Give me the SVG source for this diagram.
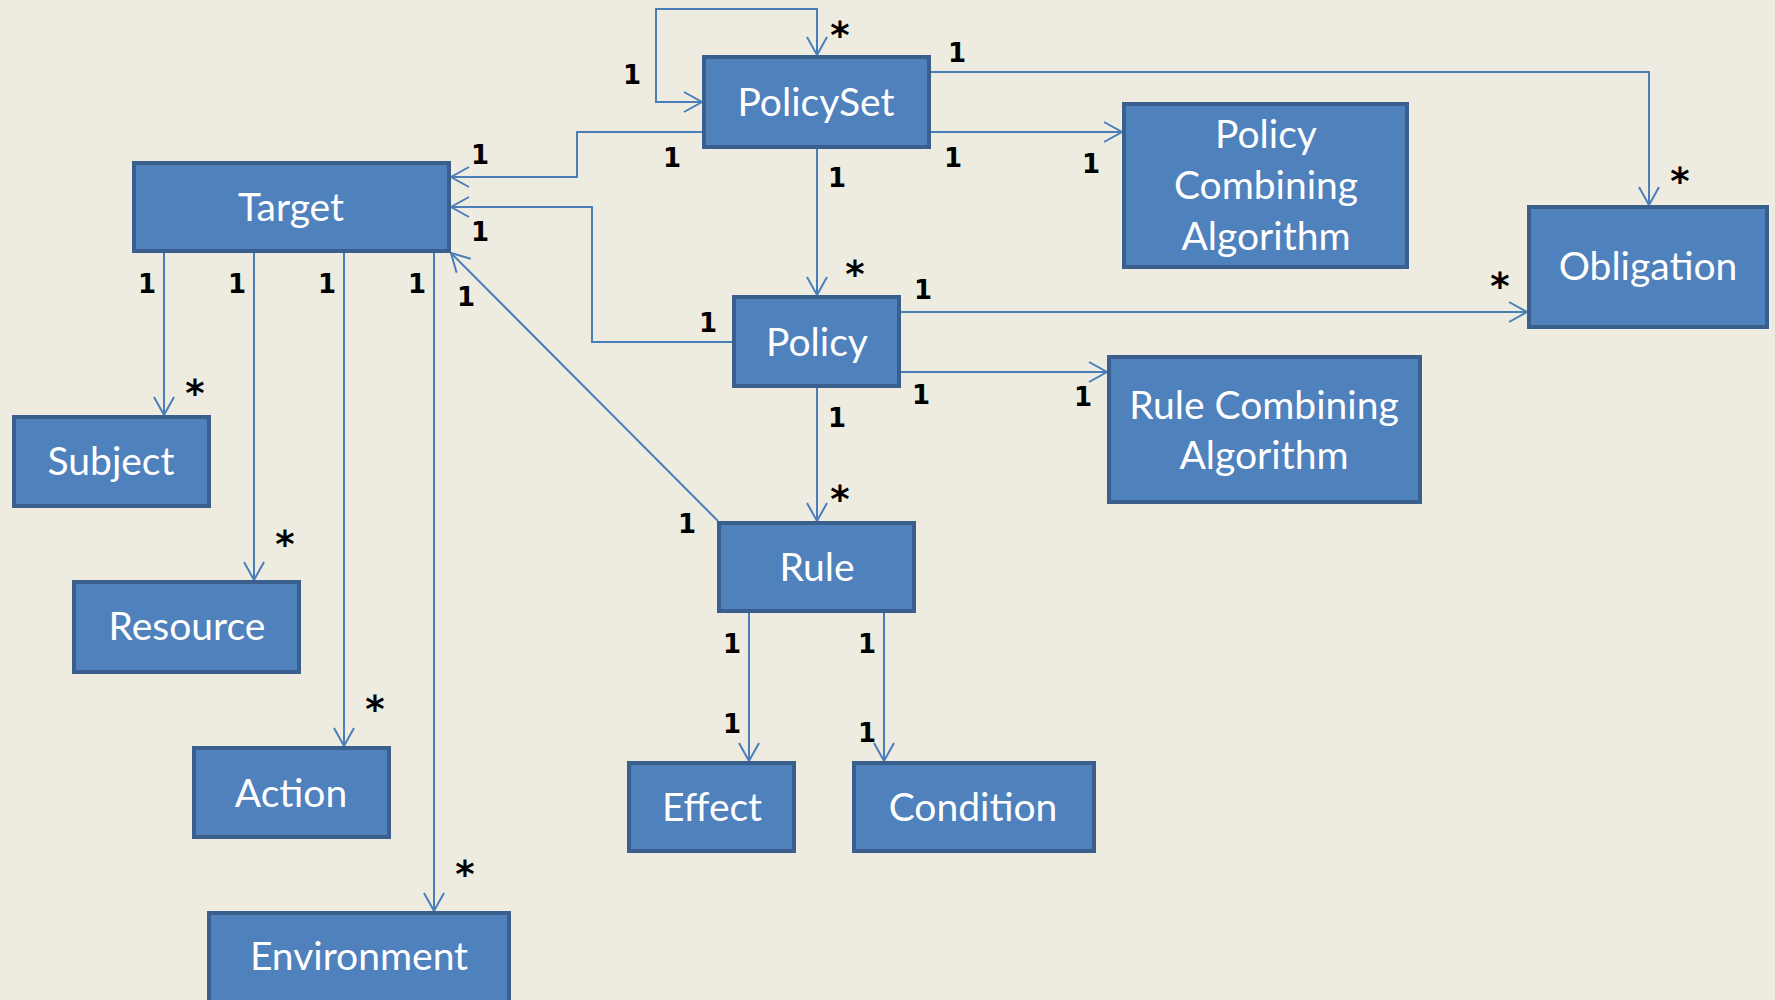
<svg xmlns="http://www.w3.org/2000/svg" width="1775" height="1000" viewBox="0 0 1775 1000">
<style>
.node rect{fill:#4F81BD;stroke:#3A5F8D;stroke-width:4}
.node text{fill:#FFFFFF;font-family:Lato,"Open Sans","Liberation Sans",sans-serif;font-size:39px;text-anchor:middle}
.conn path{fill:none;stroke:#4A7EBB;stroke-width:2}
.lbl{fill:#000;font-family:"DejaVu Sans","Liberation Sans",sans-serif;font-weight:bold;font-size:26px;text-anchor:middle}
.ast{font-size:37px}
</style>
<defs>
<marker id="arr" markerUnits="userSpaceOnUse" markerWidth="24" markerHeight="24" viewBox="-20 -12 24 24" refX="0" refY="0" orient="auto">
<path d="M-18,-10 L0,0 L-18,10" fill="none" stroke="#4A7EBB" stroke-width="2"/>
</marker>
</defs>
<rect x="0" y="0" width="1775" height="1000" fill="#EEECE1"/>
<g class="conn" id="connectors">
<path d="M817,55 V9 H656 V102 H702" marker-end="url(#arr)"/>
<path d="M817,20 V55" marker-end="url(#arr)"/>
<path d="M702,132 H577 V177 H451" marker-end="url(#arr)"/>
<path d="M931,132 H1122" marker-end="url(#arr)"/>
<path d="M931,72 H1649 V205" marker-end="url(#arr)"/>
<path d="M817,149 V295" marker-end="url(#arr)"/>
<path d="M732,342 H592 V207 H451" marker-end="url(#arr)"/>
<path d="M901,312 H1527" marker-end="url(#arr)"/>
<path d="M901,372 H1107" marker-end="url(#arr)"/>
<path d="M817,388 V521" marker-end="url(#arr)"/>
<path d="M718,521 L451,253" marker-end="url(#arr)"/>
<path d="M749,613 V761" marker-end="url(#arr)"/>
<path d="M884,613 V761" marker-end="url(#arr)"/>
<path d="M164,253 V415" marker-end="url(#arr)"/>
<path d="M254,253 V580" marker-end="url(#arr)"/>
<path d="M344,253 V746" marker-end="url(#arr)"/>
<path d="M434,253 V911" marker-end="url(#arr)"/>
</g>
<g class="node" id="PolicySet"><rect x="704" y="57" width="225" height="90"/><text x="816" y="116">PolicySet</text></g>
<g class="node" id="Target"><rect x="134" y="163" width="315" height="88"/><text x="291" y="221">Target</text></g>
<g class="node" id="PolicyCombiningAlgorithm"><rect x="1124" y="104" width="283" height="163"/><text x="1266" y="148">Policy</text><text x="1266" y="199">Combining</text><text x="1266" y="250">Algorithm</text></g>
<g class="node" id="Obligation"><rect x="1529" y="207" width="238" height="120"/><text x="1648" y="280">Obligation</text></g>
<g class="node" id="Policy"><rect x="734" y="297" width="165" height="89"/><text x="817" y="356">Policy</text></g>
<g class="node" id="RuleCombiningAlgorithm"><rect x="1109" y="357" width="311" height="145"/><text x="1264" y="419">Rule Combining</text><text x="1264" y="469">Algorithm</text></g>
<g class="node" id="Rule"><rect x="719" y="523" width="195" height="88"/><text x="817" y="581">Rule</text></g>
<g class="node" id="Effect"><rect x="629" y="763" width="165" height="88"/><text x="712" y="821">Effect</text></g>
<g class="node" id="Condition"><rect x="854" y="763" width="240" height="88"/><text x="973" y="821">Condition</text></g>
<g class="node" id="Subject"><rect x="14" y="417" width="195" height="89"/><text x="111" y="475">Subject</text></g>
<g class="node" id="Resource"><rect x="74" y="582" width="225" height="90"/><text x="187" y="640">Resource</text></g>
<g class="node" id="Action"><rect x="194" y="748" width="195" height="89"/><text x="291" y="807">Action</text></g>
<g class="node" id="Environment"><rect x="209" y="913" width="300" height="100"/><text x="359" y="970">Environment</text></g>
<g id="labels">
<text class="lbl" x="632" y="84">1</text>
<text class="lbl ast" x="840" y="48">*</text>
<text class="lbl" x="957" y="62">1</text>
<text class="lbl" x="953" y="167">1</text>
<text class="lbl" x="672" y="167">1</text>
<text class="lbl" x="837" y="187">1</text>
<text class="lbl" x="1091" y="173">1</text>
<text class="lbl ast" x="1680" y="194">*</text>
<text class="lbl" x="480" y="164">1</text>
<text class="lbl" x="480" y="241">1</text>
<text class="lbl" x="466" y="306">1</text>
<text class="lbl" x="147" y="293">1</text>
<text class="lbl" x="237" y="293">1</text>
<text class="lbl" x="327" y="293">1</text>
<text class="lbl" x="417" y="293">1</text>
<text class="lbl ast" x="195" y="406">*</text>
<text class="lbl ast" x="285" y="557">*</text>
<text class="lbl ast" x="375" y="722">*</text>
<text class="lbl ast" x="465" y="887">*</text>
<text class="lbl ast" x="855" y="287">*</text>
<text class="lbl" x="708" y="332">1</text>
<text class="lbl" x="923" y="299">1</text>
<text class="lbl ast" x="1500" y="299">*</text>
<text class="lbl" x="921" y="404">1</text>
<text class="lbl" x="1083" y="406">1</text>
<text class="lbl" x="837" y="427">1</text>
<text class="lbl ast" x="840" y="512">*</text>
<text class="lbl" x="687" y="533">1</text>
<text class="lbl" x="732" y="653">1</text>
<text class="lbl" x="867" y="653">1</text>
<text class="lbl" x="732" y="733">1</text>
<text class="lbl" x="867" y="742">1</text>
</g>
</svg>
